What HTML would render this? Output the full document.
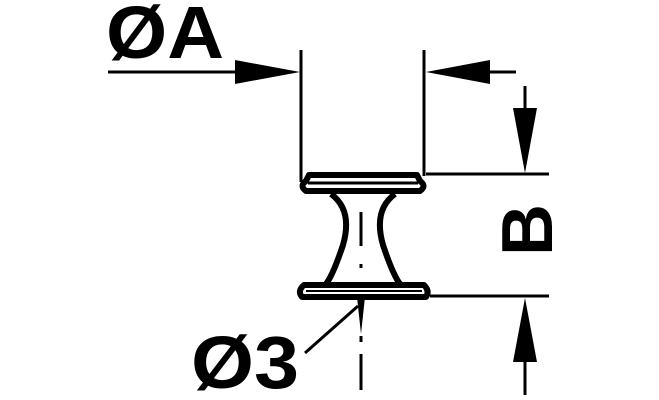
<!DOCTYPE html>
<html><head><style>
html,body{margin:0;padding:0;background:#fff;}
svg{display:block;}
text{font-family:"Liberation Sans",sans-serif;font-weight:bold;fill:#000;}
</style></head><body>
<svg width="659" height="400" viewBox="0 0 659 400">
<!-- dimension A -->
<text x="106" y="58" font-size="74" textLength="118" lengthAdjust="spacingAndGlyphs">ØA</text>
<line x1="108" y1="72" x2="240" y2="72" stroke="#000" stroke-width="3"/>
<polygon points="235,60 300,72 235,84" fill="#000"/>
<line x1="301" y1="50" x2="301" y2="182" stroke="#000" stroke-width="3"/>
<line x1="424" y1="50" x2="424" y2="176" stroke="#000" stroke-width="3"/>
<polygon points="490,60 426,72 490,84" fill="#000"/>
<line x1="485" y1="72" x2="516" y2="72" stroke="#000" stroke-width="3"/>
<!-- dimension B -->
<line x1="426" y1="174" x2="549" y2="174" stroke="#000" stroke-width="3"/>
<line x1="430" y1="296" x2="549" y2="296" stroke="#000" stroke-width="3"/>
<line x1="525" y1="86" x2="525" y2="115" stroke="#000" stroke-width="3"/>
<polygon points="513,108 525,173 537,108" fill="#000"/>
<polygon points="513,362 525,298 537,362" fill="#000"/>
<line x1="525" y1="355" x2="525" y2="395" stroke="#000" stroke-width="3"/>
<text x="0" y="0" font-size="72" transform="translate(552,256) rotate(-90)">B</text>
<!-- knob -->
<g fill="none" stroke="#000" stroke-width="6" stroke-linejoin="round">
<path d="M309,175 L417,175 L420,181 Q427,186 420,191 L306,191 Q299,186 306,181 Z"/>
<path d="M331,194 Q353,210 343,245 Q333,275 326,284 M395,194 Q373,210 383,245 Q393,275 400,284"/>
<path d="M304,285 L424,285 Q430,291 426,297 L302,297 Q297,291 304,285 Z"/>
</g>
<line x1="308" y1="183" x2="418" y2="183" stroke="#000" stroke-width="3"/>
<line x1="306" y1="291" x2="422" y2="291" stroke="#000" stroke-width="2"/>
<!-- centerline -->
<line x1="361" y1="212" x2="361" y2="246" stroke="#000" stroke-width="3"/>
<line x1="361" y1="264" x2="361" y2="268" stroke="#000" stroke-width="3"/>
<polygon points="357,297 365,297 361,334" fill="#000"/>
<line x1="361" y1="336" x2="361" y2="342" stroke="#000" stroke-width="3"/>
<line x1="361" y1="354" x2="361" y2="390" stroke="#000" stroke-width="3"/>
<!-- O3 -->
<line x1="305" y1="353" x2="358" y2="306" stroke="#000" stroke-width="3"/>
<text x="191" y="388" font-size="74" textLength="108" lengthAdjust="spacingAndGlyphs">Ø3</text>
</svg>
</body></html>
